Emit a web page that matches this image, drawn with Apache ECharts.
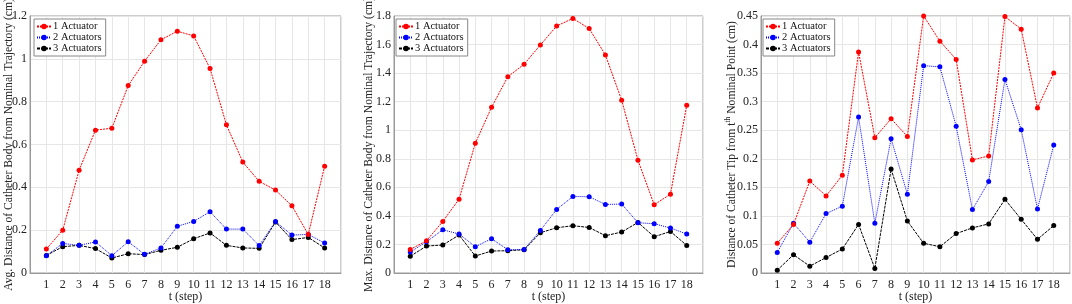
<!DOCTYPE html>
<html>
<head>
<meta charset="utf-8">
<script src="https://cdn.jsdelivr.net/npm/echarts@6/dist/echarts.min.js"></script>
<style>
  html, body { margin: 0; padding: 0; background: #fff; }
  #chart { width: 1072px; height: 304px; }
</style>
</head>
<body>
<div id="chart"></div>
<script>
// time steps shared by the three panels
const steps = [1, 2, 3, 4, 5, 6, 7, 8, 9, 10, 11, 12, 13, 14, 15, 16, 17, 18]
const seriesNames = ['1 Actuator', '2 Actuators', '3 Actuators']

// panel 1: average distance of catheter body
const avgOne = [0.112, 0.200, 0.480, 0.667, 0.676, 0.875, 0.989, 1.089, 1.129, 1.107, 0.955, 0.692, 0.518, 0.428, 0.387, 0.314, 0.180, 0.499]
const avgTwo = [0.081, 0.138, 0.129, 0.145, 0.081, 0.146, 0.087, 0.117, 0.218, 0.241, 0.286, 0.205, 0.205, 0.128, 0.240, 0.177, 0.180, 0.140]
const avgThree = [0.082, 0.123, 0.129, 0.114, 0.070, 0.090, 0.086, 0.106, 0.120, 0.160, 0.187, 0.129, 0.117, 0.115, 0.238, 0.156, 0.166, 0.117]

// panel 2: max distance of catheter body
const maxOne = [0.165, 0.226, 0.361, 0.517, 0.909, 1.161, 1.375, 1.462, 1.597, 1.730, 1.783, 1.713, 1.527, 1.210, 0.790, 0.478, 0.552, 1.175]
const maxTwo = [0.147, 0.219, 0.303, 0.273, 0.184, 0.240, 0.163, 0.165, 0.298, 0.445, 0.536, 0.534, 0.480, 0.483, 0.352, 0.345, 0.315, 0.273]
const maxThree = [0.117, 0.189, 0.196, 0.266, 0.119, 0.154, 0.156, 0.163, 0.282, 0.317, 0.331, 0.319, 0.261, 0.287, 0.354, 0.254, 0.291, 0.193]

// panel 3: tip distance from t-th nominal point
const tipOne = [0.052, 0.085, 0.161, 0.135, 0.171, 0.387, 0.237, 0.270, 0.239, 0.450, 0.406, 0.374, 0.198, 0.205, 0.449, 0.427, 0.289, 0.350]
const tipTwo = [0.036, 0.087, 0.054, 0.104, 0.117, 0.273, 0.087, 0.235, 0.138, 0.363, 0.361, 0.257, 0.111, 0.160, 0.339, 0.251, 0.112, 0.224]
const tipThree = [0.005, 0.032, 0.012, 0.027, 0.042, 0.085, 0.008, 0.182, 0.091, 0.052, 0.046, 0.069, 0.079, 0.086, 0.129, 0.094, 0.059, 0.083]

const font = 'Liberation Serif'
const frame = '#9a9a9a'
const gridLine = '#e6e6e6'

const panels = [
  { left: 30, width: 311, max: 1.2, interval: 0.2, gap: 15, legendLeft: 34,
    name: 'Avg. Distance of Catheter Body from Nominal Trajectory (cm)',
    data: [avgOne, avgTwo, avgThree] },
  { left: 394, width: 309, max: 1.8, interval: 0.2, gap: 19, legendLeft: 396,
    name: 'Max. Distance of Catheter Body from Nominal Trajectory (cm)',
    data: [maxOne, maxTwo, maxThree] },
  { left: 761, width: 309, max: 0.45, interval: 0.05, gap: 22, legendLeft: 763,
    name: 'Distance of Catheter Tip from t{sup|th} Nominal Point (cm)',
    data: [tipOne, tipTwo, tipThree] }
]

const lineLooks = [
  { color: '#ff0000', dash: [2, 1] },
  { color: '#0000ff', dash: [1, 1] },
  { color: '#000000', dash: [3, 1] }
]

const chart = echarts.init(document.getElementById('chart'), null, { renderer: 'canvas' })

chart.setOption({
  backgroundColor: '#fff',
  animation: false,
  textStyle: { fontFamily: font },
  grid: panels.map(p => ({
    left: p.left, width: p.width, top: 16, height: 257,
    containLabel: false, outerBoundsMode: 'none',
    show: true, borderColor: frame, borderWidth: 1, backgroundColor: 'transparent'
  })),
  legend: panels.map(p => ({
    data: seriesNames,
    orient: 'vertical',
    left: p.legendLeft,
    top: 19,
    itemWidth: 14,
    itemHeight: 7,
    itemGap: 0,
    padding: [2, 4, 2, 2],
    backgroundColor: '#fff',
    borderColor: '#888',
    borderWidth: 1,
    borderRadius: 0,
    selectedMode: false,
    textStyle: { fontFamily: font, fontSize: 10.5, color: '#111', lineHeight: 11, padding: [0, 0, 0, -3] }
  })),
  xAxis: panels.map((p, i) => ({
    gridIndex: i,
    type: 'value',
    min: 0,
    max: 19,
    interval: 1,
    name: 't (step)',
    nameLocation: 'middle',
    nameGap: 18,
    nameMoveOverlap: false,
    nameTextStyle: { fontFamily: font, fontSize: 12, color: '#222' },
    axisLine: { lineStyle: { color: frame } },
    axisTick: { show: false },
    axisLabel: {
      fontFamily: font, fontSize: 12, color: '#222', margin: 6,
      formatter: v => (v === 0 || v === 19) ? '' : String(v)
    },
    splitLine: { show: true, lineStyle: { color: gridLine, width: 1 } }
  })),
  yAxis: panels.map((p, i) => ({
    gridIndex: i,
    type: 'value',
    min: 0,
    max: p.max,
    interval: p.interval,
    name: p.name,
    nameLocation: 'middle',
    nameRotate: 90,
    nameGap: p.gap,
    nameMoveOverlap: false,
    nameTextStyle: {
      fontFamily: font, fontSize: 11.6, color: '#222',
      rich: { sup: { fontFamily: font, fontSize: 7.5, color: '#222', padding: [0, 0, 7, 0] } }
    },
    axisLine: { show: true, lineStyle: { color: frame } },
    axisTick: { show: false },
    axisLabel: { fontFamily: font, fontSize: 12, color: '#222', margin: 3 },
    splitLine: { show: true, lineStyle: { color: gridLine, width: 1 } }
  })),
  series: panels.flatMap((p, i) => p.data.map((vals, k) => ({
    name: seriesNames[k],
    type: 'line',
    xAxisIndex: i,
    yAxisIndex: i,
    data: steps.map((s, j) => [s, vals[j]]),
    symbol: 'circle',
    symbolSize: 5,
    z: 5 - k,
    itemStyle: { color: lineLooks[k].color },
    lineStyle: { color: lineLooks[k].color, width: 1, type: lineLooks[k].dash }
  })))
})
</script>
</body>
</html>
